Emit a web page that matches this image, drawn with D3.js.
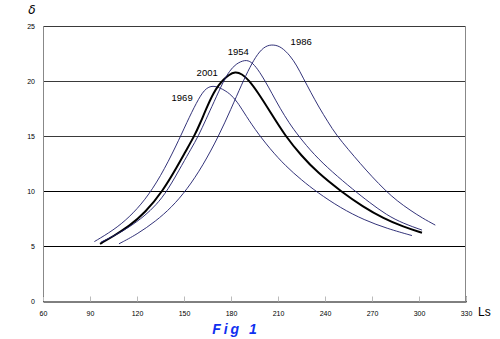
<!DOCTYPE html>
<html>
<head>
<meta charset="utf-8">
<script src="https://cdn.jsdelivr.net/npm/d3@7"></script>
<style>
  html, body { margin: 0; padding: 0; background: #fff; }
  svg { display: block; }
</style>
</head>
<body>
<svg id="chart" width="500" height="339"></svg>
<script>
// Solar longitude (Ls) vs delta for four apparitions
const xTicks = [60, 90, 120, 150, 180, 210, 240, 270, 300, 330];
const yTicks = [0, 5, 10, 15, 20, 25];

const series1969 = [[92.8,5.4],[105,6.44],[115,7.6],[125,9.15],[135,11.3],[145,14.1],[152,16.3],[158,18.05],[163,19.25],[167.8,19.6],
  [173,19.4],[179.5,18.85],[184,18.1],[188,17.2],[195,15.65],[205,13.8],[215,12.25],[225,11.0],[235,9.88],[250,8.45],[265,7.36],[280,6.57],[295.5,5.95]];
const series2001 = [[96.4,5.2],[105,5.9],[115,6.8],[125,8.0],[136.5,10],[146,12.3],[151,13.6],[156.6,15],[160,16.05],[165,17.75],[169,18.95],[172,19.6],[175,20.1],[178.5,20.55],[182.6,20.85],
  [187,20.65],[191.2,20.1],[197,19.0],[205,17.2],[214.6,15],[225,13.2],[235,11.7],[250.8,9.9],[264,8.6],[277.4,7.5],[290,6.75],[301.9,6.2]];
const series1954 = [[97,5.35],[105,5.9],[115,6.7],[125,7.75],[132,8.7],[139.4,10],[149.4,12.55],[154.4,13.8],[159.2,15],[164,16.5],[169,18.05],[175.2,20],[179,20.9],[183,21.55],[189,21.95],
  [193,21.75],[197,21.1],[201.8,20],[206,18.9],[211.4,17.5],[217,16.2],[223.1,15],[233,13.3],[244.4,11.75],[258.2,10.1],[268,9.0],[279.5,7.8],[290,7.05],[301.9,6.45]];
const series1986 = [[108.5,5.2],[120,6.06],[132,7.26],[142,8.5],[152,10.15],[162,12.3],[172,14.95],[180,17.45],[187,19.75],[192,21.25],[197,22.5],[202,23.2],[206.9,23.32],
  [212,23.12],[217.8,22.3],[222,21.4],[226,20.3],[231,18.95],[236,17.65],[242,16.25],[247.2,15.1],[255,13.75],[262.5,12.5],[270,11.3],[278.5,10.05],[286,9.1],[294.4,8.25],[302,7.55],[310.4,6.9]];

const seriesNames = ["1969", "2001", "1954", "1986"];
const seriesData = [series1969, series2001, series1954, series1986];
// label anchor points in data units (Ls, delta)
const labelPos = [[148.8, 18.14], [164.8, 20.5], [184.6, 22.4], [224.8, 23.23]];

const svg = d3.select("#chart");
const x = d3.scaleLinear().domain([60, 330]).range([43, 466]);
const y = d3.scaleLinear().domain([0, 25]).range([301, 26]);

// horizontal grid lines
svg.append("g").selectAll("line")
  .data(yTicks.filter(d => d > 0))
  .join("line")
  .attr("x1", x(60)).attr("x2", x(330))
  .attr("y1", d => Math.round(y(d)) + 0.5).attr("y2", d => Math.round(y(d)) + 0.5)
  .attr("stroke", d => d >= 15 ? "#3a3a3a" : "#000")
  .attr("stroke-width", 1);

// frame: left and right borders
svg.append("line")
  .attr("x1", x(60) + 0.5).attr("x2", x(60) + 0.5)
  .attr("y1", y(25)).attr("y2", y(0))
  .attr("stroke", "#888").attr("stroke-width", 1);
svg.append("line")
  .attr("x1", x(330) - 0.5).attr("x2", x(330) - 0.5)
  .attr("y1", y(25)).attr("y2", y(0))
  .attr("stroke", "#888").attr("stroke-width", 1);

// bottom axis with inward ticks
const xAxis = d3.axisBottom(x).tickValues(xTicks).tickSize(-5).tickPadding(10).tickFormat(d3.format("d"));
const gx = svg.append("g").attr("transform", `translate(0,${Math.round(y(0)) + 0.5})`).call(xAxis);
gx.select(".domain").attr("stroke", "#000");
gx.selectAll(".tick line").attr("stroke", "#bbb");
gx.selectAll(".tick text")
  .attr("font-family", "Liberation Sans, Arial, sans-serif")
  .attr("font-size", 7).attr("fill", "#000");

// left axis labels
const yAxis = d3.axisLeft(y).tickValues(yTicks).tickSize(0).tickPadding(8).tickFormat(d3.format("d"));
const gy = svg.append("g").attr("transform", `translate(${x(60)},0)`).call(yAxis);
gy.select(".domain").remove();
gy.selectAll(".tick text")
  .attr("font-family", "Liberation Sans, Arial, sans-serif")
  .attr("font-size", 7).attr("fill", "#000");

// curves (B-spline smoothing through the sampled points)
const line = d3.line()
  .x(d => x(d[0])).y(d => y(d[1]))
  .curve(d3.curveBasis);

svg.append("g").selectAll("path")
  .data(seriesData)
  .join("path")
  .attr("d", line)
  .attr("fill", "none")
  .attr("stroke", (d, i) => seriesNames[i] === "2001" ? "#000" : "#1c1c6a")
  .attr("stroke-width", (d, i) => seriesNames[i] === "2001" ? 2 : 0.9)
  .attr("stroke-linejoin", "round");

// series labels
svg.append("g").selectAll("text")
  .data(seriesNames)
  .join("text")
  .attr("x", (d, i) => x(labelPos[i][0]))
  .attr("y", (d, i) => y(labelPos[i][1]))
  .attr("text-anchor", "middle")
  .attr("font-family", "Liberation Sans, Arial, sans-serif")
  .attr("font-size", 9.5)
  .attr("fill", "#000")
  .text(d => d);

// axis titles
svg.append("text")
  .attr("x", 32).attr("y", 14)
  .attr("text-anchor", "middle")
  .attr("font-family", "DejaVu Sans, sans-serif")
  .attr("font-style", "italic")
  .attr("font-size", 12)
  .text("δ");

svg.append("text")
  .attr("x", 478).attr("y", 316)
  .attr("font-family", "Liberation Sans, Arial, sans-serif")
  .attr("font-size", 12)
  .text("Ls");

svg.append("text")
  .attr("x", 236).attr("y", 334)
  .attr("text-anchor", "middle")
  .attr("font-family", "Liberation Sans, Arial, sans-serif")
  .attr("font-style", "italic")
  .attr("font-weight", "bold")
  .attr("font-size", 14)
  .attr("letter-spacing", 3)
  .attr("fill", "#1030f0")
  .text("Fig 1");
</script>
</body>
</html>
